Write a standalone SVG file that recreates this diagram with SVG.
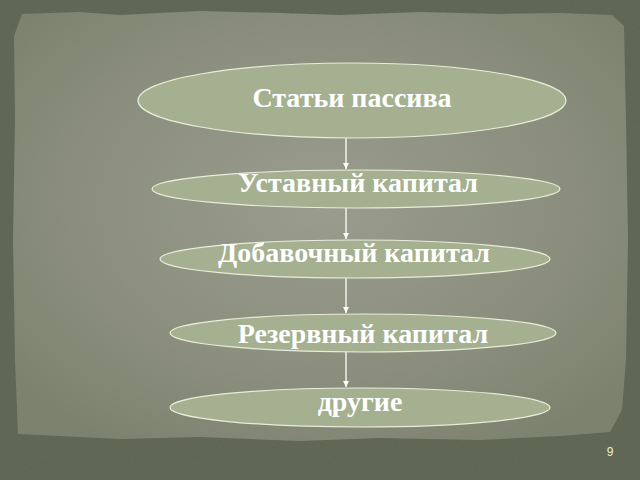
<svg xmlns="http://www.w3.org/2000/svg" width="640" height="480" viewBox="0 0 640 480">
<defs>
<radialGradient id="panel" cx="0.5" cy="0.45" r="0.65">
<stop offset="0" stop-color="#9a9d8d"/>
<stop offset="0.6" stop-color="#8b8e7d"/>
<stop offset="1" stop-color="#7b806c"/>
</radialGradient>
<filter id="grain" x="0" y="0" width="100%" height="100%">
<feTurbulence type="fractalNoise" baseFrequency="0.9" numOctaves="2" seed="3"/>
<feColorMatrix type="matrix" values="0 0 0 0 0.3  0 0 0 0 0.32  0 0 0 0 0.26  0 0 0 0.25 0"/>
<feComposite in2="SourceGraphic" operator="in"/>
</filter>
<marker id="arr" markerWidth="8" markerHeight="8" refX="6" refY="3" orient="auto" markerUnits="userSpaceOnUse">
<path d="M0,0 L6,3 L0,6 z" fill="#ffffff"/>
</marker>
</defs>
<style>
.node ellipse{fill:#a4b090;stroke:#e8ecdc;stroke-width:1.2}
.node text{font-family:"Liberation Serif","Times New Roman",serif;font-weight:bold;font-size:28px;fill:#ffffff;text-anchor:middle}
.conn line{stroke:#ffffff;stroke-width:1.3}
</style>
<rect x="0" y="0" width="640" height="480" fill="#5d6351"/>
<path d="M22,14 L80,12 L120,15 L200,11 L280,13 L340,15 L420,12 L500,14 L560,13 L612,15 L624,26 L626,120 L628,240 L626,360 L622,410 L610,432 L560,436 L480,440 L380,438 L300,441 L200,437 L120,439 L60,436 L18,434 L15,360 L13,240 L15,120 L14,36 Z" fill="url(#panel)"/>
<rect x="0" y="0" width="640" height="480" fill="#000" filter="url(#grain)" opacity="0.6"/>
<g class="conn">
<line x1="346" y1="138" x2="346" y2="169" marker-end="url(#arr)"/>
<line x1="346" y1="208" x2="346" y2="239" marker-end="url(#arr)"/>
<line x1="346" y1="278" x2="346" y2="313" marker-end="url(#arr)"/>
<line x1="346" y1="352" x2="346" y2="387" marker-end="url(#arr)"/>
</g>
<g id="n1" class="node"><ellipse cx="352" cy="100.5" rx="214" ry="37.5"/><text x="352" y="107">Статьи пассива</text></g>
<g id="n2" class="node"><ellipse cx="356" cy="189" rx="204" ry="19"/><text x="358" y="192">Уставный капитал</text></g>
<g id="n3" class="node"><ellipse cx="355" cy="259" rx="195" ry="19"/><text x="354" y="262">Добавочный капитал</text></g>
<g id="n4" class="node"><ellipse cx="363" cy="333" rx="193" ry="19"/><text x="363" y="343">Резервный капитал</text></g>
<g id="n5" class="node"><ellipse cx="360" cy="407.5" rx="190" ry="19.5"/><text x="360" y="411">другие</text></g>
<text x="610" y="456" font-family="Liberation Sans,Arial,sans-serif" font-size="12" fill="#e8ecd8" text-anchor="middle">9</text>
</svg>
